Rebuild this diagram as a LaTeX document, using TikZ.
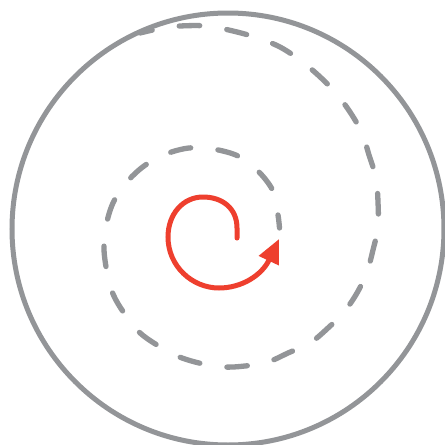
\documentclass[tikz,border=0pt]{standalone}
\usetikzlibrary{arrows.meta}
\definecolor{cgray}{HTML}{939598}
\definecolor{cred}{HTML}{EE3F2E}
\tikzset{
  rim/.style={draw=cgray, line width=5pt},
  spiraldash/.style={draw=cgray, line width=5.3pt, line cap=round, dash pattern=on 20.5pt off 27.4pt, dash phase=8pt},
  redspiral/.style={draw=cred, line width=5pt, line cap=round, -{Triangle[length=24pt,width=21pt]}}
}
\begin{document}
\begin{tikzpicture}[x=1pt,y=-1pt]
\useasboundingbox (0,0) rectangle (445,445);
\clip (0,0) rectangle (445,445);
\fill[white] (0,0) rectangle (445,445);
\path[rim] (228,229) circle [radius=216pt];
\path[spiraldash] plot[smooth, tension=0.55] coordinates {
(140,33) (160,28.5) (180,26) (207,26) (233,31) (258,38) (280,47) (300,60) (318,75) (335,92)
(350,112) (362,133) (369,155) (376,178) (378,202) (378,227) (373,250) (367,272)
(357,293) (344,312) (328,328) (310,343) (288,353) (268,362) (245,366) (223,367)
(199,363) (177,356) (157,345) (139,332) (124,313) (113,294) (107,272) (104,249)
(106,226) (113,203) (126,183) (144,166) (166,154) (189,148) (213,149) (238,156)
(258,171) (273,191) (278,215) (279.5,228)};
\path[redspiral] (237,238) -- (237,228)
  .. controls (237,208) and (222,197) .. (203,197)
  .. controls (183,197) and (168,214) .. (168,237)
  .. controls (168,266) and (192,288) .. (219,288)
  .. controls (242,288) and (262,275) .. (279,239);
\end{tikzpicture}
\end{document}
